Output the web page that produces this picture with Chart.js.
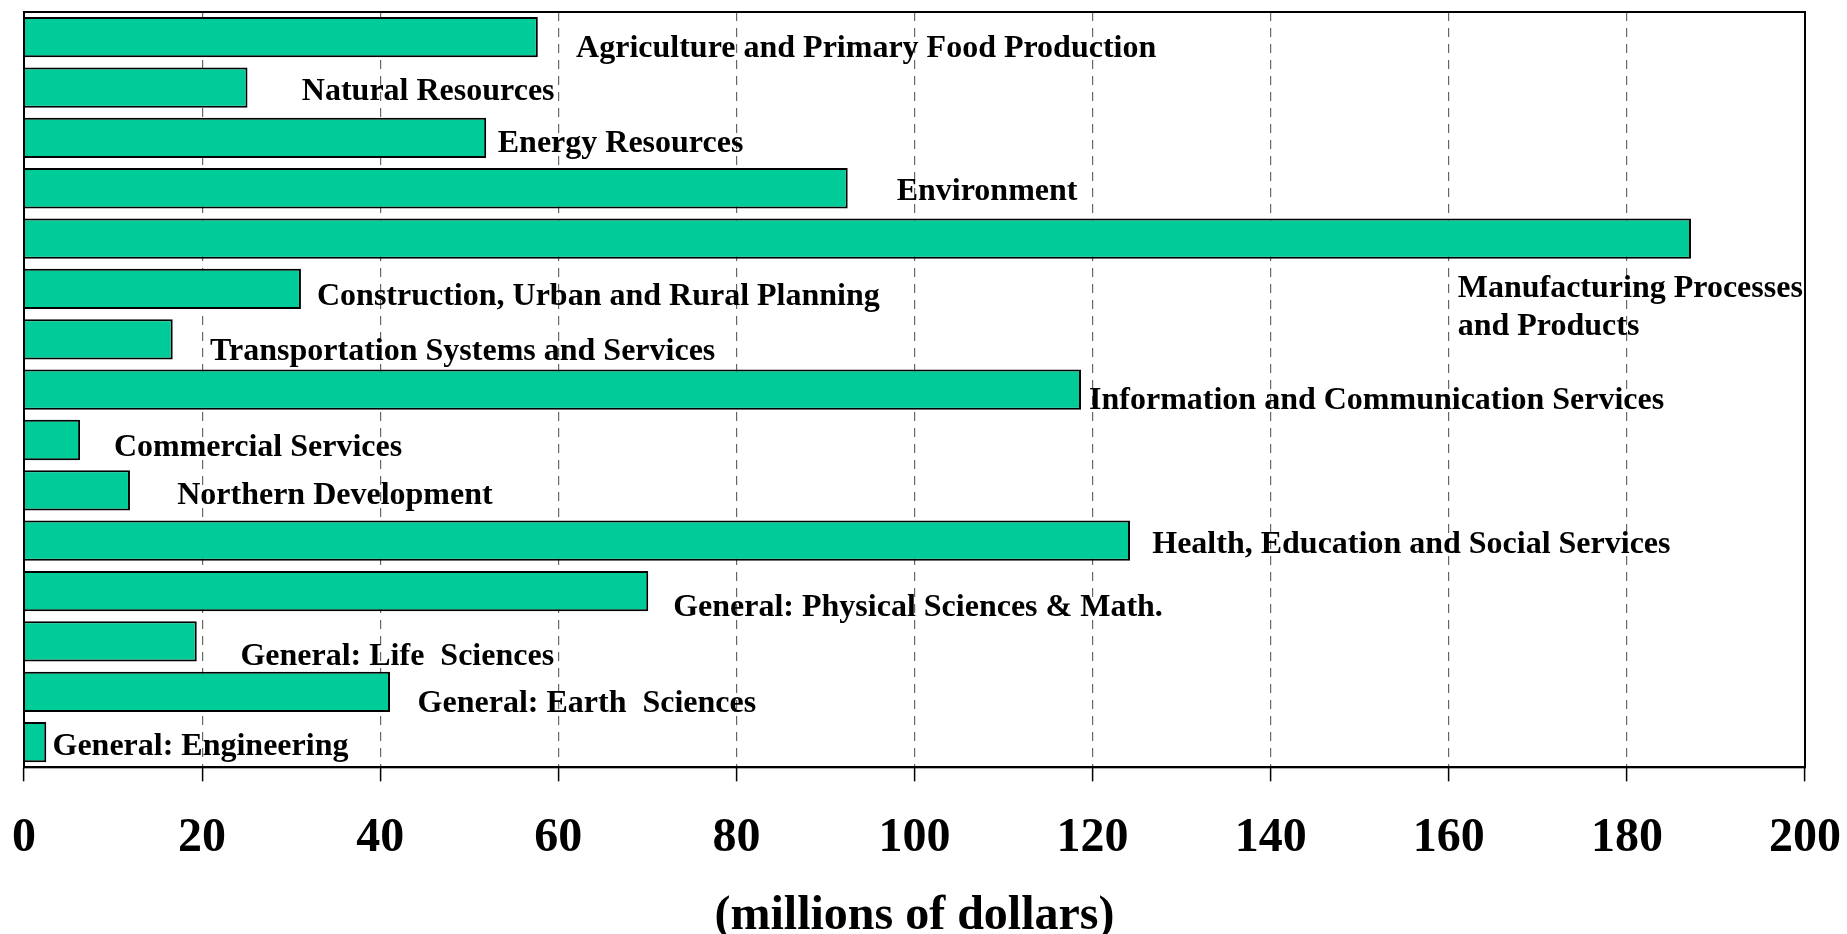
<!DOCTYPE html>
<html>
<head>
<meta charset="utf-8">
<title>Funding by sector</title>
<script src="https://cdn.jsdelivr.net/npm/chart.js@4/dist/chart.umd.min.js"></script>
<style>
    html, body { margin: 0; padding: 0; background: #fff; }
    #wrap { width: 1847px; height: 934px; }
</style>
</head>
<body>
<div id="wrap"><canvas id="grafico" width="1847" height="934"></canvas></div>
<script>
const categorias = [
    'Agriculture and Primary Food Production',
    'Natural Resources',
    'Energy Resources',
    'Environment',
    ['Manufacturing Processes', 'and Products'],
    'Construction, Urban and Rural Planning',
    'Transportation Systems and Services',
    'Information and Communication Services',
    'Commercial Services',
    'Northern Development',
    'Health, Education and Social Services',
    'General: Physical Sciences & Math.',
    'General: Life  Sciences',
    'General: Earth  Sciences',
    'General: Engineering'
];

// millions of dollars
const valores = [57.7, 25.1, 51.9, 92.5, 187.2, 31.1, 16.7, 118.7, 6.3, 11.9, 124.2, 70.1, 19.4, 41.1, 2.5];

const ticksX = [0, 20, 40, 60, 80, 100, 120, 140, 160, 180, 200];
const tituloX = '(millions of dollars)';

// where each text label sits: x in dollars, y shift in fractions of a row
const rotuloX = [62.0, 31.2, 53.2, 98.0, 161.0, 32.9, 20.9, 119.6, 10.1, 17.2, 126.7, 72.9, 24.3, 44.2, 3.2];
const rotuloDy = [0.22, 0.09, 0.11, 0.07, 0.99, 0.16, 0.25, 0.21, 0.15, 0.11, 0.07, 0.33, 0.30, 0.24, 0.10];

const fonte = '"Liberation Serif", "Times New Roman", serif';

document.addEventListener("DOMContentLoaded", function() {
    const ctx = document.getElementById('grafico').getContext('2d');

    // box around the plot and the text labels next to the bars
    const rotulos = {
        id: 'rotulos',
        afterDraw(chart) {
            const c = chart.ctx;
            const area = chart.chartArea;
            const sx = chart.scales.x;
            const sy = chart.scales.y;
            const linha = sy.getPixelForValue(1) - sy.getPixelForValue(0);

            c.save();
            c.strokeStyle = '#000';
            c.lineWidth = 2;
            c.strokeRect(area.left, area.top, area.right - area.left, area.bottom - area.top);

            c.fillStyle = '#000';
            c.font = 'bold 32px ' + fonte;
            c.textAlign = 'left';
            c.textBaseline = 'middle';
            categorias.forEach((cat, i) => {
                const x = sx.getPixelForValue(rotuloX[i]);
                const y = sy.getPixelForValue(i) + rotuloDy[i] * linha;
                const linhas = Array.isArray(cat) ? cat : [cat];
                linhas.forEach((t, k) => {
                    c.fillText(t, x, y + k * 38);
                });
            });
            c.restore();
        }
    };

    new Chart(ctx, {
        type: 'bar',
        data: {
            labels: categorias,
            datasets: [{
                data: valores,
                backgroundColor: '#00CC99',
                borderColor: '#000',
                borderWidth: 2,
                barPercentage: 0.8,
                categoryPercentage: 1.0
            }]
        },
        plugins: [rotulos],
        options: {
            indexAxis: 'y',
            responsive: false,
            animation: false,
            layout: {
                padding: { left: 24, right: 42, top: 12, bottom: 0 }
            },
            plugins: {
                legend: { display: false },
                tooltip: { enabled: false }
            },
            scales: {
                y: {
                    display: false
                },
                x: {
                    min: ticksX[0],
                    max: ticksX[ticksX.length - 1],
                    afterBuildTicks: function(axis) {
                        axis.ticks = ticksX.map(v => ({ value: v }));
                    },
                    afterFit: function(axis) {
                        // let the layout padding alone decide the plot edges
                        axis.paddingLeft = 0;
                        axis.paddingRight = 0;
                    },
                    grid: {
                        color: '#666',
                        lineWidth: 1.2,
                        tickLength: 14,
                        tickColor: '#000',
                        tickWidth: 1.5,
                        tickBorderDash: []
                    },
                    border: {
                        display: true,
                        color: '#000',
                        width: 2,
                        dash: [9, 7]
                    },
                    ticks: {
                        color: '#000',
                        padding: 28,
                        maxRotation: 0,
                        autoSkip: false,
                        font: { family: fonte, size: 48, weight: 'bold', lineHeight: 1.2 }
                    },
                    title: {
                        display: true,
                        text: tituloX,
                        color: '#000',
                        padding: { top: 5, bottom: 0 },
                        font: { family: fonte, size: 48, weight: 'bold', lineHeight: 0.71 }
                    }
                }
            }
        }
    });
});
</script>
</body>
</html>
